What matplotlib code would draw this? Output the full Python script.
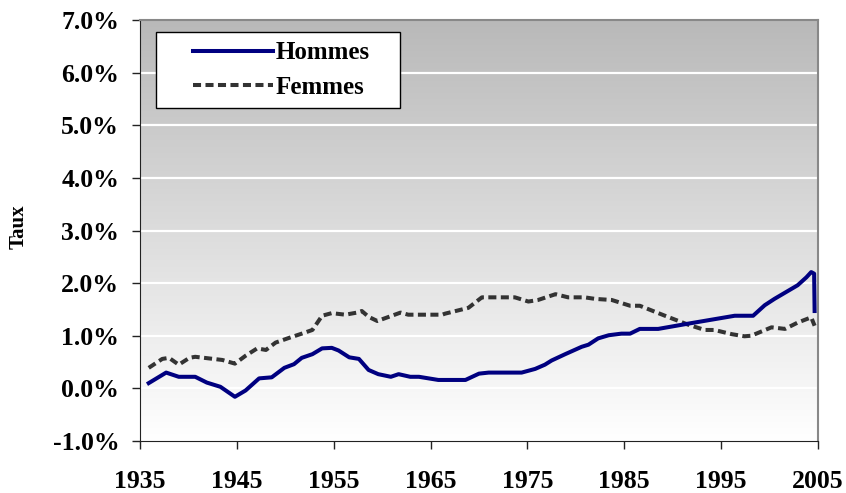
import numpy as np
import matplotlib
matplotlib.use('Agg')
import matplotlib.pyplot as plt
from matplotlib.colors import LinearSegmentedColormap
from matplotlib.ticker import FuncFormatter
from matplotlib.legend_handler import HandlerLine2D

plt.rcParams['font.family'] = ['Liberation Serif', 'DejaVu Serif']
plt.rcParams['font.weight'] = 'bold'

# Hommes
years_h = [1935.9, 1937.7, 1939.0, 1940.7, 1941.9, 1943.3, 1944.8, 1945.9, 1947.3, 1948.6,
           1949.9, 1950.9, 1951.7, 1952.8, 1953.8, 1954.8, 1955.5, 1956.6, 1957.6, 1958.6,
           1959.6, 1960.9, 1961.7, 1962.9, 1963.8, 1965.8, 1968.6, 1970.0, 1971.0, 1974.4,
           1975.8, 1976.8, 1977.5, 1978.9, 1980.6, 1981.3, 1982.3, 1983.4, 1984.7, 1985.6,
           1986.6, 1988.5, 1991.6, 1996.4, 1998.3, 1999.5, 2000.5, 2002.9, 2003.8, 2004.3,
           2004.6, 2004.65]
vals_h = [0.10, 0.30, 0.22, 0.22, 0.11, 0.03, -0.16, -0.04, 0.19, 0.21,
          0.39, 0.46, 0.58, 0.65, 0.76, 0.77, 0.72, 0.59, 0.56, 0.35,
          0.27, 0.22, 0.27, 0.22, 0.22, 0.16, 0.16, 0.28, 0.30, 0.30,
          0.37, 0.45, 0.53, 0.65, 0.79, 0.83, 0.95, 1.01, 1.04, 1.04,
          1.13, 1.13, 1.23, 1.38, 1.38, 1.58, 1.70, 1.96, 2.11, 2.21,
          2.18, 1.47]

# Femmes
years_f = [1935.9, 1937.3, 1938.0, 1939.0, 1940.1, 1940.7, 1943.5, 1944.8, 1945.9, 1947.1,
           1948.0, 1949.0, 1950.4, 1951.7, 1952.8, 1953.8, 1954.8, 1956.2, 1957.4, 1957.9,
           1958.6, 1959.5, 1961.9, 1962.7, 1966.2, 1966.5, 1968.9, 1970.3, 1973.7, 1975.1,
           1976.1, 1977.9, 1979.2, 1980.9, 1982.0, 1983.7, 1985.6, 1986.6, 1989.2, 1991.6,
           1993.3, 1994.3, 1996.1, 1997.4, 1998.1, 2000.2, 2001.6, 2002.9, 2004.3, 2004.65]
vals_f = [0.39, 0.56, 0.58, 0.45, 0.58, 0.60, 0.54, 0.47, 0.62, 0.76,
          0.73, 0.87, 0.96, 1.04, 1.11, 1.38, 1.43, 1.40, 1.44, 1.47,
          1.36, 1.28, 1.44, 1.40, 1.40, 1.42, 1.53, 1.73, 1.73, 1.65,
          1.68, 1.79, 1.73, 1.73, 1.70, 1.68, 1.57, 1.57, 1.38, 1.21,
          1.11, 1.11, 1.03, 0.99, 1.00, 1.16, 1.13, 1.25, 1.35, 1.19]

x_ticks = [1935, 1945, 1955, 1965, 1975, 1985, 1995, 2005]
y_ticks = [-1, 0, 1, 2, 3, 4, 5, 6, 7]

W, H = 846, 493
fig = plt.figure(figsize=(W / 100, H / 100), dpi=100)
ax = fig.add_axes([140 / W, 1 - 441 / H, (818 - 140) / W, (441 - 20) / H])

# grey to white gradient background
cmap = LinearSegmentedColormap.from_list("bg", ["#ffffff", "#b9b9b9"])
grad = np.linspace(0, 1, 256).reshape(-1, 1)
ax.imshow(grad, aspect='auto', cmap=cmap, origin='lower',
          extent=[1935, 2005, -1, 7], zorder=0)

for y in y_ticks[1:-1]:
    ax.axhline(y, color='white', lw=1.6, zorder=1)

ax.plot(years_h, vals_h, color='#000080', lw=2.9, label='Hommes', zorder=3)
ax.plot(years_f, vals_f, color='#333333', lw=2.9, dashes=(2, 1.1), label='Femmes', zorder=2)

ax.set_xlim(1935, 2005)
ax.set_ylim(-1, 7)
ax.set_xticks(x_ticks)
ax.set_yticks(y_ticks)
ax.yaxis.set_major_formatter(FuncFormatter(lambda v, p: "%.1f%%" % v))
ax.tick_params(axis='both', direction='out', length=6, width=1, labelsize=18.5, color='#222222')
ax.tick_params(axis='x', pad=15)
ax.tick_params(axis='y', pad=9)

ax.spines['top'].set_color('#888888')
ax.spines['top'].set_linewidth(1.5)
ax.spines['right'].set_color('#888888')
ax.spines['right'].set_linewidth(1.5)
ax.spines['left'].set_color('#222222')
ax.spines['bottom'].set_color('#222222')

ax.set_ylabel('Taux', fontsize=15, fontweight='bold')
ax.yaxis.set_label_coords(-0.165, 0.508)

leg = ax.legend(loc='upper left', bbox_to_anchor=(0.0236, 0.5, 0.36, 0.4715), mode='expand',
                borderaxespad=0, fontsize=18, frameon=True, fancybox=False, framealpha=1,
                edgecolor='black', handlelength=4.3, handletextpad=0.1, borderpad=0.38,
                labelspacing=0.45,
                handler_map={plt.Line2D: HandlerLine2D(xpad=1.1)})
leg.get_frame().set_linewidth(1.0)
for t in leg.get_texts():
    t.set_fontweight('bold')

fig.savefig('out.png', dpi=100)
